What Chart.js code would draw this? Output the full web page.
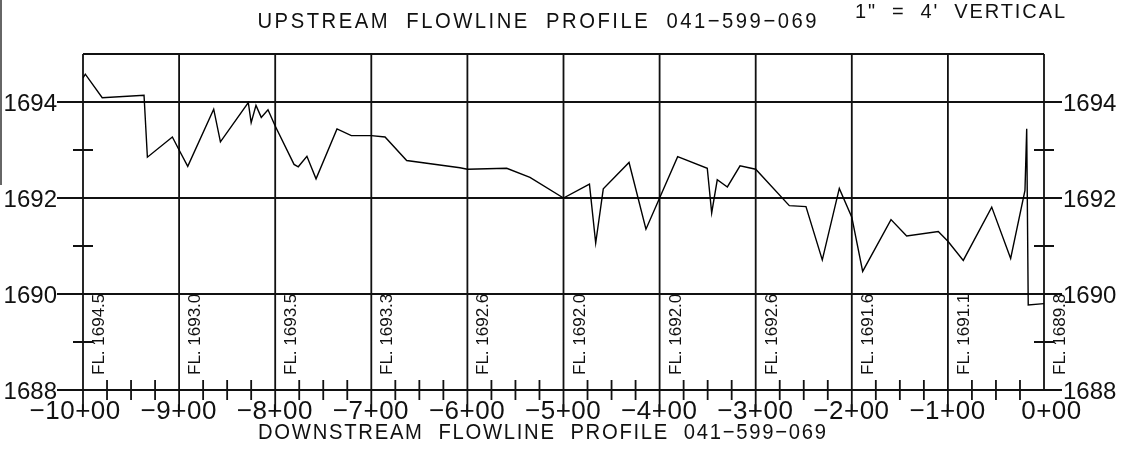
<!DOCTYPE html>
<html>
<head>
<meta charset="utf-8">
<title>Flowline Profile 041-599-069</title>
<script src="https://cdn.jsdelivr.net/npm/chart.js@4.4.1/dist/chart.umd.min.js"></script>
<style>
  html, body { margin: 0; padding: 0; background: #fff; }
  canvas { display: block; }
</style>
</head>
<body>
<canvas id="profile" width="1127" height="454"></canvas>
<script>
// Surveyed flowline: station (ft, negative = upstream of 0+00) and elevation (ft)
const stations = [
  -1000, -997.6, -980, -936.5, -933, -907, -900, -891, -864, -857,
  -828, -825, -820, -814.5, -807.5, -800, -780.4, -776, -767, -757.5,
  -735.7, -720.8, -700, -685.7, -663.2, -607.7, -600, -559.1, -534.9, -500,
  -473, -466.5, -458.6, -431.8, -414.2, -400, -381.2, -350.4, -345.8, -340,
  -329.5, -316.3, -300, -265, -247.7, -230.7, -213, -200, -188.7, -159.2,
  -142.9, -110, -100, -84, -54.4, -34.7, -19.8, -18, -16.4, 0
];
const elevations = [
  1694.5, 1694.58, 1694.09, 1694.14, 1692.85, 1693.27, 1693.0, 1692.66, 1693.85, 1693.17,
  1693.99, 1693.57, 1693.93, 1693.68, 1693.84, 1693.5, 1692.70, 1692.65, 1692.87, 1692.40,
  1693.44, 1693.30, 1693.3, 1693.27, 1692.78, 1692.63, 1692.6, 1692.62, 1692.43, 1692.0,
  1692.29, 1691.06, 1692.19, 1692.74, 1691.35, 1692.0, 1692.86, 1692.62, 1691.69, 1692.38,
  1692.23, 1692.67, 1692.6, 1691.84, 1691.82, 1690.71, 1692.20, 1691.6, 1690.47, 1691.55,
  1691.21, 1691.30, 1691.1, 1690.70, 1691.81, 1690.74, 1692.16, 1693.44, 1689.77, 1689.8
];

// Station grid (every 100 ft) and its labels
const stationTicks = [-1000, -900, -800, -700, -600, -500, -400, -300, -200, -100, 0];
const stationLabels = ['\u221210+00', '\u22129+00', '\u22128+00', '\u22127+00', '\u22126+00',
  '\u22125+00', '\u22124+00', '\u22123+00', '\u22122+00', '\u22121+00', '0+00'];

// Elevation grid: labelled lines every 2 ft, short marks on the odd feet
const elevationTicks = [1694, 1692, 1690, 1688];
const elevationLabels = ['1694', '1692', '1690', '1688'];
const elevationMinor = [1693, 1691, 1689];

// Flowline elevation called out at each station
const flowlineAtStation = ['1694.5', '1693.0', '1693.5', '1693.3', '1692.6', '1692.0',
  '1692.0', '1692.6', '1691.6', '1691.1', '1689.8'];

const titleTop = 'UPSTREAM  FLOWLINE  PROFILE  041\u2212599\u2212069';
const titleBottom = 'DOWNSTREAM  FLOWLINE  PROFILE  041\u2212599\u2212069';
const scaleNote = '1"  =  4\'  VERTICAL';

const X_MIN = -1000, X_MAX = 0, Y_MIN = 1688, Y_MAX = 1695;
const FONT = '"Liberation Sans", "DejaVu Sans", Arial, sans-serif';
const INK = '#111';

// Draws one line of lettering spread evenly across a given width
function fittedText(ctx, text, cx, baseline, size, width, squeeze) {
  ctx.save();
  ctx.font = size + 'px ' + FONT;
  ctx.letterSpacing = '0px';
  const n = [...text].length;
  const natural = ctx.measureText(text).width;
  const extra = (width / squeeze - natural) / (n - 1);
  ctx.letterSpacing = extra + 'px';
  ctx.translate(cx - width / 2, baseline);
  ctx.scale(squeeze, 1);
  ctx.textAlign = 'left';
  ctx.textBaseline = 'alphabetic';
  ctx.fillText(text, 0, 0);
  ctx.restore();
}

const sheetGrid = {
  id: 'sheetGrid',
  beforeDraw(chart) {
    const ctx = chart.ctx;
    ctx.save();
    ctx.fillStyle = '#fff';
    ctx.fillRect(0, 0, chart.width, chart.height);
    // sheet edge on the far left
    ctx.strokeStyle = '#666';
    ctx.lineWidth = 2;
    ctx.beginPath();
    ctx.moveTo(1, 0);
    ctx.lineTo(1, 185);
    ctx.stroke();
    ctx.restore();
  },
  beforeDatasetsDraw(chart) {
    const ctx = chart.ctx;
    const xs = chart.scales.x, ys = chart.scales.y;
    const xl = xs.getPixelForValue(X_MIN), xr = xs.getPixelForValue(X_MAX);
    const yTop = ys.getPixelForValue(Y_MAX), yBase = ys.getPixelForValue(Y_MIN);
    ctx.save();
    ctx.strokeStyle = INK;
    ctx.lineWidth = 1.8;
    ctx.lineCap = 'butt';
    ctx.beginPath();
    // top border
    ctx.moveTo(xl, yTop); ctx.lineTo(xr, yTop);
    // labelled elevation lines run out past both borders
    elevationTicks.forEach(v => {
      const y = ys.getPixelForValue(v);
      ctx.moveTo(xl - 26, y); ctx.lineTo(xr + 18, y);
    });
    // station lines drop below the base into the station labels
    stationTicks.forEach(s => {
      const x = xs.getPixelForValue(s);
      ctx.moveTo(x, yTop);
      ctx.lineTo(x, s === X_MAX ? yBase : yBase + 21);
    });
    // odd-foot marks on both borders
    elevationMinor.forEach(v => {
      const y = ys.getPixelForValue(v);
      ctx.moveTo(xl - 10, y); ctx.lineTo(xl + 10, y);
      ctx.moveTo(xr - 10, y); ctx.lineTo(xr + 10, y);
    });
    // 25 ft marks along the base
    for (let s = X_MIN + 25; s < X_MAX; s += 25) {
      if (s % 100 === 0) continue;
      const x = xs.getPixelForValue(s);
      ctx.moveTo(x, yBase - 10); ctx.lineTo(x, yBase + 10);
    }
    ctx.stroke();
    ctx.restore();
  },
  afterDraw(chart) {
    const ctx = chart.ctx;
    const xs = chart.scales.x, ys = chart.scales.y;
    const xl = xs.getPixelForValue(X_MIN), xr = xs.getPixelForValue(X_MAX);
    const yBase = ys.getPixelForValue(Y_MIN);
    ctx.save();
    ctx.fillStyle = INK;
    ctx.textBaseline = 'alphabetic';

    // elevation labels on both sides
    ctx.font = '24px ' + FONT;
    elevationTicks.forEach((v, i) => {
      const y = ys.getPixelForValue(v) + 9;
      ctx.textAlign = 'right';
      ctx.fillText(elevationLabels[i], xl - 26, y);
      ctx.textAlign = 'left';
      ctx.fillText(elevationLabels[i], xr + 19, y);
    });

    // station labels, the "+" sitting on its station line
    ctx.font = '26px ' + FONT;
    ctx.letterSpacing = '0.5px';
    ctx.textAlign = 'left';
    const plusW = ctx.measureText('+').width;
    stationTicks.forEach((s, i) => {
      const label = stationLabels[i];
      const head = label.slice(0, label.indexOf('+'));
      const x = xs.getPixelForValue(s) - ctx.measureText(head).width - plusW / 2;
      ctx.fillText(label, x, yBase + 29);
    });
    ctx.letterSpacing = '0px';

    // flowline call-outs, written upward beside each station line
    ctx.font = '17px ' + FONT;
    stationTicks.forEach((s, i) => {
      const x = xs.getPixelForValue(s) + 21;
      ctx.save();
      ctx.translate(x, yBase - 15);
      ctx.rotate(-Math.PI / 2);
      ctx.textAlign = 'left';
      ctx.fillText('FL. ' + flowlineAtStation[i], 0, 0);
      ctx.restore();
    });

    // titles
    fittedText(ctx, titleTop, 537, 28, 22, 559, 0.92);
    fittedText(ctx, titleBottom, 542, 439, 22, 568, 0.92);
    fittedText(ctx, scaleNote, 960, 18, 20, 210, 1.0);
    ctx.restore();
  }
};

new Chart(document.getElementById('profile'), {
  type: 'scatter',
  data: {
    datasets: [{
      label: 'Flowline',
      data: stations.map((s, i) => ({ x: s, y: elevations[i] })),
      showLine: true,
      borderColor: '#000',
      borderWidth: 1.4,
      pointRadius: 0,
      tension: 0,
      fill: false
    }]
  },
  options: {
    responsive: false,
    devicePixelRatio: 1,
    animation: false,
    events: [],
    layout: { padding: { left: 83, right: 83, top: 54, bottom: 64 } },
    plugins: { legend: { display: false }, tooltip: { enabled: false } },
    scales: {
      x: { type: 'linear', min: X_MIN, max: X_MAX, display: false },
      y: { type: 'linear', min: Y_MIN, max: Y_MAX, display: false }
    }
  },
  plugins: [sheetGrid]
});
</script>
</body>
</html>
